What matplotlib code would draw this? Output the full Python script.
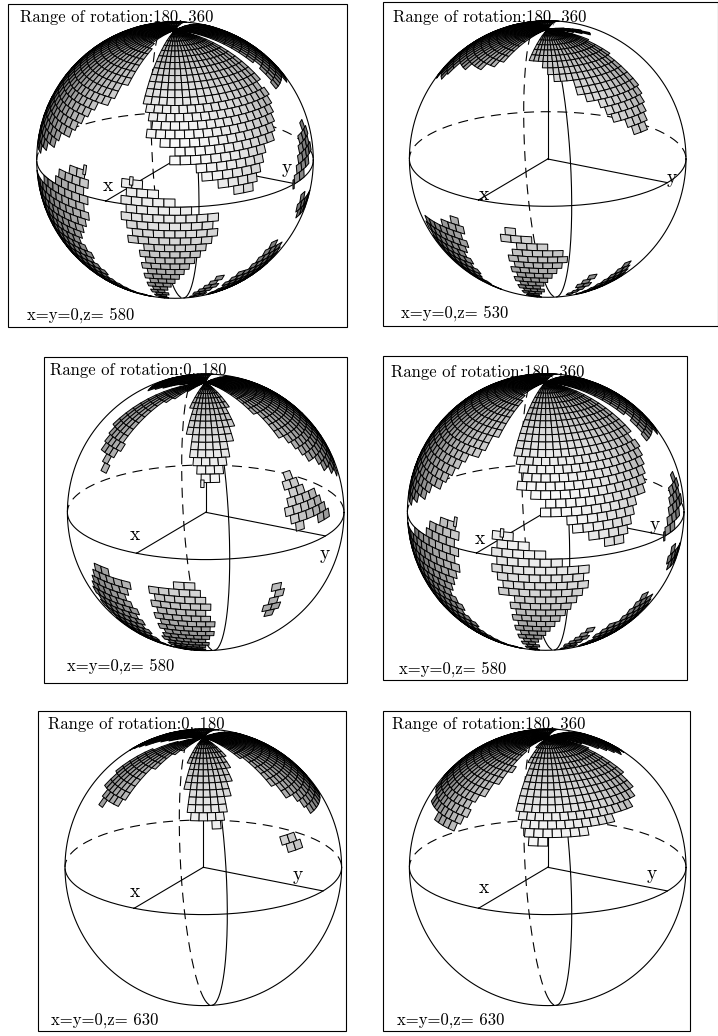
import numpy as np
import matplotlib
matplotlib.use('Agg')
import matplotlib.pyplot as plt
from matplotlib.collections import PolyCollection
from matplotlib.path import Path
from matplotlib.patches import Rectangle

# patch outlines on the sphere, latitude / longitude in degrees
p1_lat_a = [90, 64, 55, 45, 38, 31, 26, 20, 16, 9, 6, 5, 12, 21, 31, 42, 54, 72, 90]
p1_lon_a = [13, 13, 11, 13, 17, 19, 28, 30, 41, 49, 55, 64, 69, 76, 83, 90, 93, 93, 93]
p1_lat_b = [90, 78, 67, 55, 44, 36, 26, 20, 15, 7, 5, 25, 46, 62, 79, 90]
p1_lon_b = [-11, -11, -1, -2, -8, -17, -25, -32, -39, -55, -75, -85, -100, -125, -135, -135]
p1_lat_r = [90, 64, 53, 40, 37, 60, 90]
p1_lon_r = [105, 105, 107, 103, 140, 175, 175]
p1_lat_t = [90, 62, 62, 90]
p1_lon_t = [-162, -162, -134, -134]
p1_lat_c = [12, -13, -20, -32, -47, -61, -72, -60, -46, -30, -12, 1, 9]
p1_lon_c = [-11, -11, -17, -16, -13, -2, 9, -45, -60, -70, -75, -32, -18]
p1_lat_d = [10, 9, 9, 6, 5, 2, 0, -6, -12, -16, -20, -25, -30, -40, -55, -72, -72, -44, -29, -18, -16, -10, 8]
p1_lon_d = [8, 12, 17, 17, 24, 30, 31, 46, 49, 46, 43, 38, 36, 29, 23, 20, 15, 15, 15, 16, 12, 9, 8]
p1_lat_e = [23, 22, 12, 8, 4, 1, 3, 8, 13, 18]
p1_lon_e = [106, 112, 111, 110, 99, 95, 91, 94, 98, 104]
p1_lat_f = [-7, -14, -19, -14]
p1_lon_f = [97, 93, 100, 113]
p1_lat_g = [-63, -48, -38, -47, -61]
p1_lon_g = [44, 48, 57, 57, 52]
p1_lat_h = [-66, -45, -27, -34, -51, -60]
p1_lon_h = [60, 66, 82, 95, 97, 83]

p2_lat_a = [90, 76, 66, 64, 60, 59, 56, 53, 49, 43, 38, 33, 27, 24, 27, 35, 48, 62, 76, 90]
p2_lon_a = [10, 10, 13, 26, 28, 36, 37, 47, 51, 57, 63, 68, 76, 77, 81, 86, 93, 96, 102, 102]
p2_lat_r = [90, 81, 72, 72, 80, 90]
p2_lon_r = [113, 113, 123, 131, 134, 143]
p2_lat_b = [90, 77, 64, 54, 53, 50, 43, 34, 46, 60, 75, 90]
p2_lon_b = [-13, -13, -13, -27, -39, -52, -55, -75, -100, -125, -135, -135]
p2_lat_c = [-11, -13, -17, -29, -45, -62, -47, -30, -21, -16, -13]
p2_lon_c = [-12, -11, -11, -12, -14, -16, -30, -40, -40, -22, -15]
p2_lat_d = [-12, -11, -14, -15, -18, -18, -21, -21, -27, -30, -35, -38, -47, -72, -72, -45, -32, -20, -16, -14]
p2_lon_d = [11, 15, 16, 21, 22, 27, 28, 35, 38, 36, 34, 31, 27, 19, 14, 13, 14, 15, 12, 10]
p2_lat_e = [-68, -48, -40, -47, -59]
p2_lon_e = [46, 50, 57, 56, 50]
p2_lat_f = [-67, -50, -37, -51, -61]
p2_lon_f = [58, 66, 75, 87, 76]

p3_lat_a = [90, 75, 61, 51, 38, 34, 33, 34, 34, 38, 38, 49, 58, 72, 90]
p3_lon_a = [13, 13, 17, 20, 24, 27, 28, 30, 34, 35, 39, 45, 50, 57, 57]
p3_lat_b = [90, 79, 68, 57, 48, 40, 34, 30, 31, 36, 39, 49, 59, 72, 82, 90]
p3_lon_b = [-14, -14, -25, -25, -24, -26, -28, -28, -30, -32, -40, -47, -49, -49, -48, -48]
p3_lat_t = [90, 79, 68, 65, 62, 62, 90]
p3_lon_t = [-60, -60, -67, -85, -130, -160, -160]
p3_lat_c = [90, 72, 57, 43, 32, 22, 19, 39, 57, 73, 90]
p3_lon_c = [75, 77, 80, 86, 97, 110, 119, 140, 160, 175, 175]
p3_lat_d = [31, 30, 28, 24, 19, 15, 12, 9, 10, 9, 13, 13, 20, 26]
p3_lon_d = [73, 76, 76, 81, 85, 89, 94, 92, 82, 71, 71, 68, 70, 71]
p3_lat_e = [-13, -12, -16, -16, -23, -35, -57, -66, -53, -33, -23, -17]
p3_lon_e = [-25, -16, -16, -7, -8, -5, -7, -1, -28, -32, -32, -27]
p3_lat_f = [-16, -16, -13, -13, -16, -21, -26, -31, -36, -46, -64, -72, -72, -53, -34, -22]
p3_lon_f = [7, 16, 16, 25, 25, 29, 30, 33, 33, 31, 28, 28, 5, 5, 6, 7]
p3_lat_g = [-16, -17, -20, -24, -31, -30, -24, -20]
p3_lon_g = [61, 65, 66, 65, 63, 60, 59, 61]

p5_lat_a = [90, 78, 64, 51, 44, 41, 40, 37, 37, 40, 41, 53, 63, 76, 90]
p5_lon_a = [10, 10, 17, 20, 23, 24, 35, 35, 37, 38, 41, 47, 53, 62, 62]
p5_lat_b = [90, 78, 66, 55, 47, 40, 40, 37, 37, 41, 47, 57, 68, 81, 90]
p5_lon_b = [-9, -9, -18, -21, -23, -24, -35, -34, -37, -38, -48, -53, -51, -43, -43]
p5_lat_t = [90, 81, 67, 54, 56, 62, 90]
p5_lon_t = [-62, -62, -74, -89, -120, -165, -165]
p5_lat_c = [90, 72, 61, 46, 33, 32, 49, 63, 90]
p5_lon_c = [78, 78, 80, 86, 100, 125, 143, 170, 170]
p5_lat_d = [29, 29, 26, 26, 22, 22, 26]
p5_lon_d = [72, 76, 76, 80, 79, 71, 71]

p6_lat_a = [90, 79, 63, 54, 43, 38, 36, 33, 32, 29, 29, 33, 33, 36, 36, 39, 40, 44, 49, 59, 73, 90]
p6_lon_a = [5, 5, 12, 11, 14, 17, 20, 21, 23, 24, 30, 31, 51, 51, 65, 67, 77, 89, 95, 98, 101, 104]
p6_lat_r = [90, 76, 59, 55, 66, 90]
p6_lon_r = [108, 110, 127, 150, 170, 170]
p6_lat_b = [90, 79, 64, 55, 46, 40, 34, 29, 30, 33, 37, 46, 59, 77, 90]
p6_lon_b = [-12, -12, -4, -10, -14, -18, -17, -23, -30, -49, -63, -90, -125, -135, -135]

panel1_patches = [(p1_lat_a, p1_lon_a), (p1_lat_b, p1_lon_b), (p1_lat_r, p1_lon_r), (p1_lat_t, p1_lon_t),
                  (p1_lat_c, p1_lon_c), (p1_lat_d, p1_lon_d), (p1_lat_e, p1_lon_e), (p1_lat_f, p1_lon_f),
                  (p1_lat_g, p1_lon_g), (p1_lat_h, p1_lon_h)]
panel2_patches = [(p2_lat_a, p2_lon_a), (p2_lat_r, p2_lon_r), (p2_lat_b, p2_lon_b), (p1_lat_t, p1_lon_t),
                  (p2_lat_c, p2_lon_c), (p2_lat_d, p2_lon_d), (p2_lat_e, p2_lon_e), (p2_lat_f, p2_lon_f)]
panel3_patches = [(p3_lat_a, p3_lon_a), (p3_lat_b, p3_lon_b), (p3_lat_t, p3_lon_t), (p3_lat_c, p3_lon_c),
                  (p3_lat_d, p3_lon_d), (p3_lat_e, p3_lon_e), (p3_lat_f, p3_lon_f), (p3_lat_g, p3_lon_g)]
panel5_patches = [(p5_lat_a, p5_lon_a), (p5_lat_b, p5_lon_b), (p5_lat_t, p5_lon_t), (p5_lat_c, p5_lon_c),
                  (p5_lat_d, p5_lon_d)]
panel6_patches = [(p6_lat_a, p6_lon_a), (p6_lat_r, p6_lon_r), (p6_lat_b, p6_lon_b), (p1_lat_t, p1_lon_t)]

# narrow cells: lat top, lat bottom, lon left, lon right
p1_slivers = [(2, -2, 88.6, 89.6), (13, 9, -12.5, -11), (12, 8.5, 10.5, 12)]
p3_slivers = [(33.5, 30.3, 27.6, 29.2)]

titles = ['Range of rotation:180, 360', 'Range of rotation:180, 360', 'Range of rotation:0, 180',
          'Range of rotation:180, 360', 'Range of rotation:0, 180', 'Range of rotation:180, 360']
notes = ['x=y=0,z= 580', 'x=y=0,z= 530', 'x=y=0,z= 580', 'x=y=0,z= 580', 'x=y=0,z= 630', 'x=y=0,z= 630']
patches = [panel1_patches, panel2_patches, panel3_patches, panel1_patches, panel5_patches, panel6_patches]
slivers = [p1_slivers, [], p3_slivers, p1_slivers, [], []]

# layout in pixels
boxes = [(8, 4, 347, 327), (383, 2, 718, 326), (44, 357, 347, 683), (383, 356, 687, 680), (38, 711, 346, 1031), (383, 711, 690, 1031)]
centers = [(175, 160), (547.7, 159), (205.7, 512.3), (545.7, 512), (203.3, 867.3), (547.7, 867.3)]
title_xy = [(20, 17), (393, 17), (50, 370), (391, 372), (48, 724), (392, 724)]
note_xy = [(27, 315), (401, 313), (67, 666), (399, 669), (51, 1020), (397, 1020)]
xlabel_xy = [(108, 186), (484, 195), (135, 535), (480, 539), (135, 892), (484, 888)]
ylabel_xy = [(287, 168), (672, 178), (325, 554), (655, 525), (298, 875), (652, 874)]
R = 138.3
ELEV = np.radians(20)
VIEW_LON = 30
LAT_STEP = 3.6
LON_STEP = 4.6


def project(lat, lon):
    la = np.radians(lat)
    ph = np.radians(np.asarray(lon) - VIEW_LON)
    x = np.cos(la) * np.sin(ph)
    d = np.cos(la) * np.cos(ph)
    z = np.sin(la)
    return x, z * np.cos(ELEV) - d * np.sin(ELEV), z * np.sin(ELEV) + d * np.cos(ELEV)


def shade(w):
    return min(0.98, 0.25 + 0.73 * w)


def make_cell(cx, cy, top, bottom, left, right):
    u, v, _ = project(np.array([top, top, bottom, bottom]), np.array([left, right, right, left]))
    return np.column_stack([cx + R * u, cy - R * v])


def draw_cells(ax, cx, cy, outlines, thin):
    polys, greys = [], []
    q_lon, q_lat = LON_STEP / 8, LAT_STEP / 8
    for lats, lons in outlines:
        path = Path(np.column_stack([lons, lats]))
        for i in range(int(180 / LAT_STEP)):
            top = 90 - i * LAT_STEP
            mid = top - LAT_STEP / 2
            off = LON_STEP / 2 if (i % 2 and mid < 45) else 0
            for lon in np.arange(-200, 200, LON_STEP) + off:
                c = lon + LON_STEP / 2
                test = [(c, mid), (c - q_lon, mid - q_lat), (c + q_lon, mid - q_lat),
                        (c - q_lon, mid + q_lat), (c + q_lon, mid + q_lat)]
                if not path.contains_points(test).any():
                    continue
                w = project(mid, c)[2]
                if w <= 0:
                    continue
                polys.append(make_cell(cx, cy, top, top - LAT_STEP, lon, lon + LON_STEP))
                greys.append(shade(w))
    for top, bottom, left, right in thin:
        polys.append(make_cell(cx, cy, top, bottom, left, right))
        greys.append(shade(project((top + bottom) / 2, (left + right) / 2)[2]))
    if polys:
        ax.add_collection(PolyCollection(polys, facecolors=[str(g) for g in greys], edgecolors='black',
                                         linewidths=0.7, zorder=3))


def split_line(ax, cx, cy, u, v, w):
    ax.plot(np.where(w >= 0, cx + R * u, np.nan), np.where(w >= 0, cy - R * v, np.nan), color='black', lw=0.8, zorder=2)
    ax.plot(np.where(w <= 0, cx + R * u, np.nan), np.where(w <= 0, cy - R * v, np.nan), color='black', lw=0.8,
            ls=(0, (9, 6)), zorder=2)


def draw_sphere(ax, cx, cy):
    t = np.arange(0, 361, 2)
    ax.plot(cx + R * np.cos(np.radians(t)), cy + R * np.sin(np.radians(t)), color='black', lw=0.8, zorder=2)
    # equator
    split_line(ax, cx, cy, *project(np.zeros_like(t, dtype=float), t))
    # meridian circle through lon 40 / 220
    lat_m = np.concatenate([np.arange(-90, 91, 2), np.arange(90, -91, -2)]).astype(float)
    lon_m = np.concatenate([np.full(91, 40.0), np.full(91, 220.0)])
    split_line(ax, cx, cy, *project(lat_m, lon_m))
    # axes
    for lat_end, lon_end in [(90, 0), (0, 0), (0, 90)]:
        u, v, _ = project(lat_end, lon_end)
        ax.plot([cx, cx + R * u], [cy, cy - R * v], color='black', lw=0.8, zorder=2)


fig = plt.figure(figsize=(7.18, 10.36), dpi=100)
ax = fig.add_axes([0, 0, 1, 1])
ax.set_xlim(0, 718)
ax.set_ylim(1036, 0)
ax.axis('off')
for n in range(6):
    x0, y0, x1, y1 = boxes[n]
    ax.add_patch(Rectangle((x0, y0), x1 - x0, y1 - y0, fill=False, edgecolor='black', lw=0.8, clip_on=False))
    cx, cy = centers[n]
    draw_sphere(ax, cx, cy)
    draw_cells(ax, cx, cy, patches[n], slivers[n])
    ax.text(*title_xy[n], titles[n], family='cmr10', fontsize=12, ha='left', va='center', zorder=5)
    ax.text(*note_xy[n], notes[n], family='cmr10', fontsize=12, ha='left', va='center', zorder=5)
    ax.text(*xlabel_xy[n], 'x', family='cmr10', fontsize=14, ha='center', va='center', zorder=5)
    ax.text(*ylabel_xy[n], 'y', family='cmr10', fontsize=14, ha='center', va='center', zorder=5)
fig.savefig('out.png', dpi=100)
